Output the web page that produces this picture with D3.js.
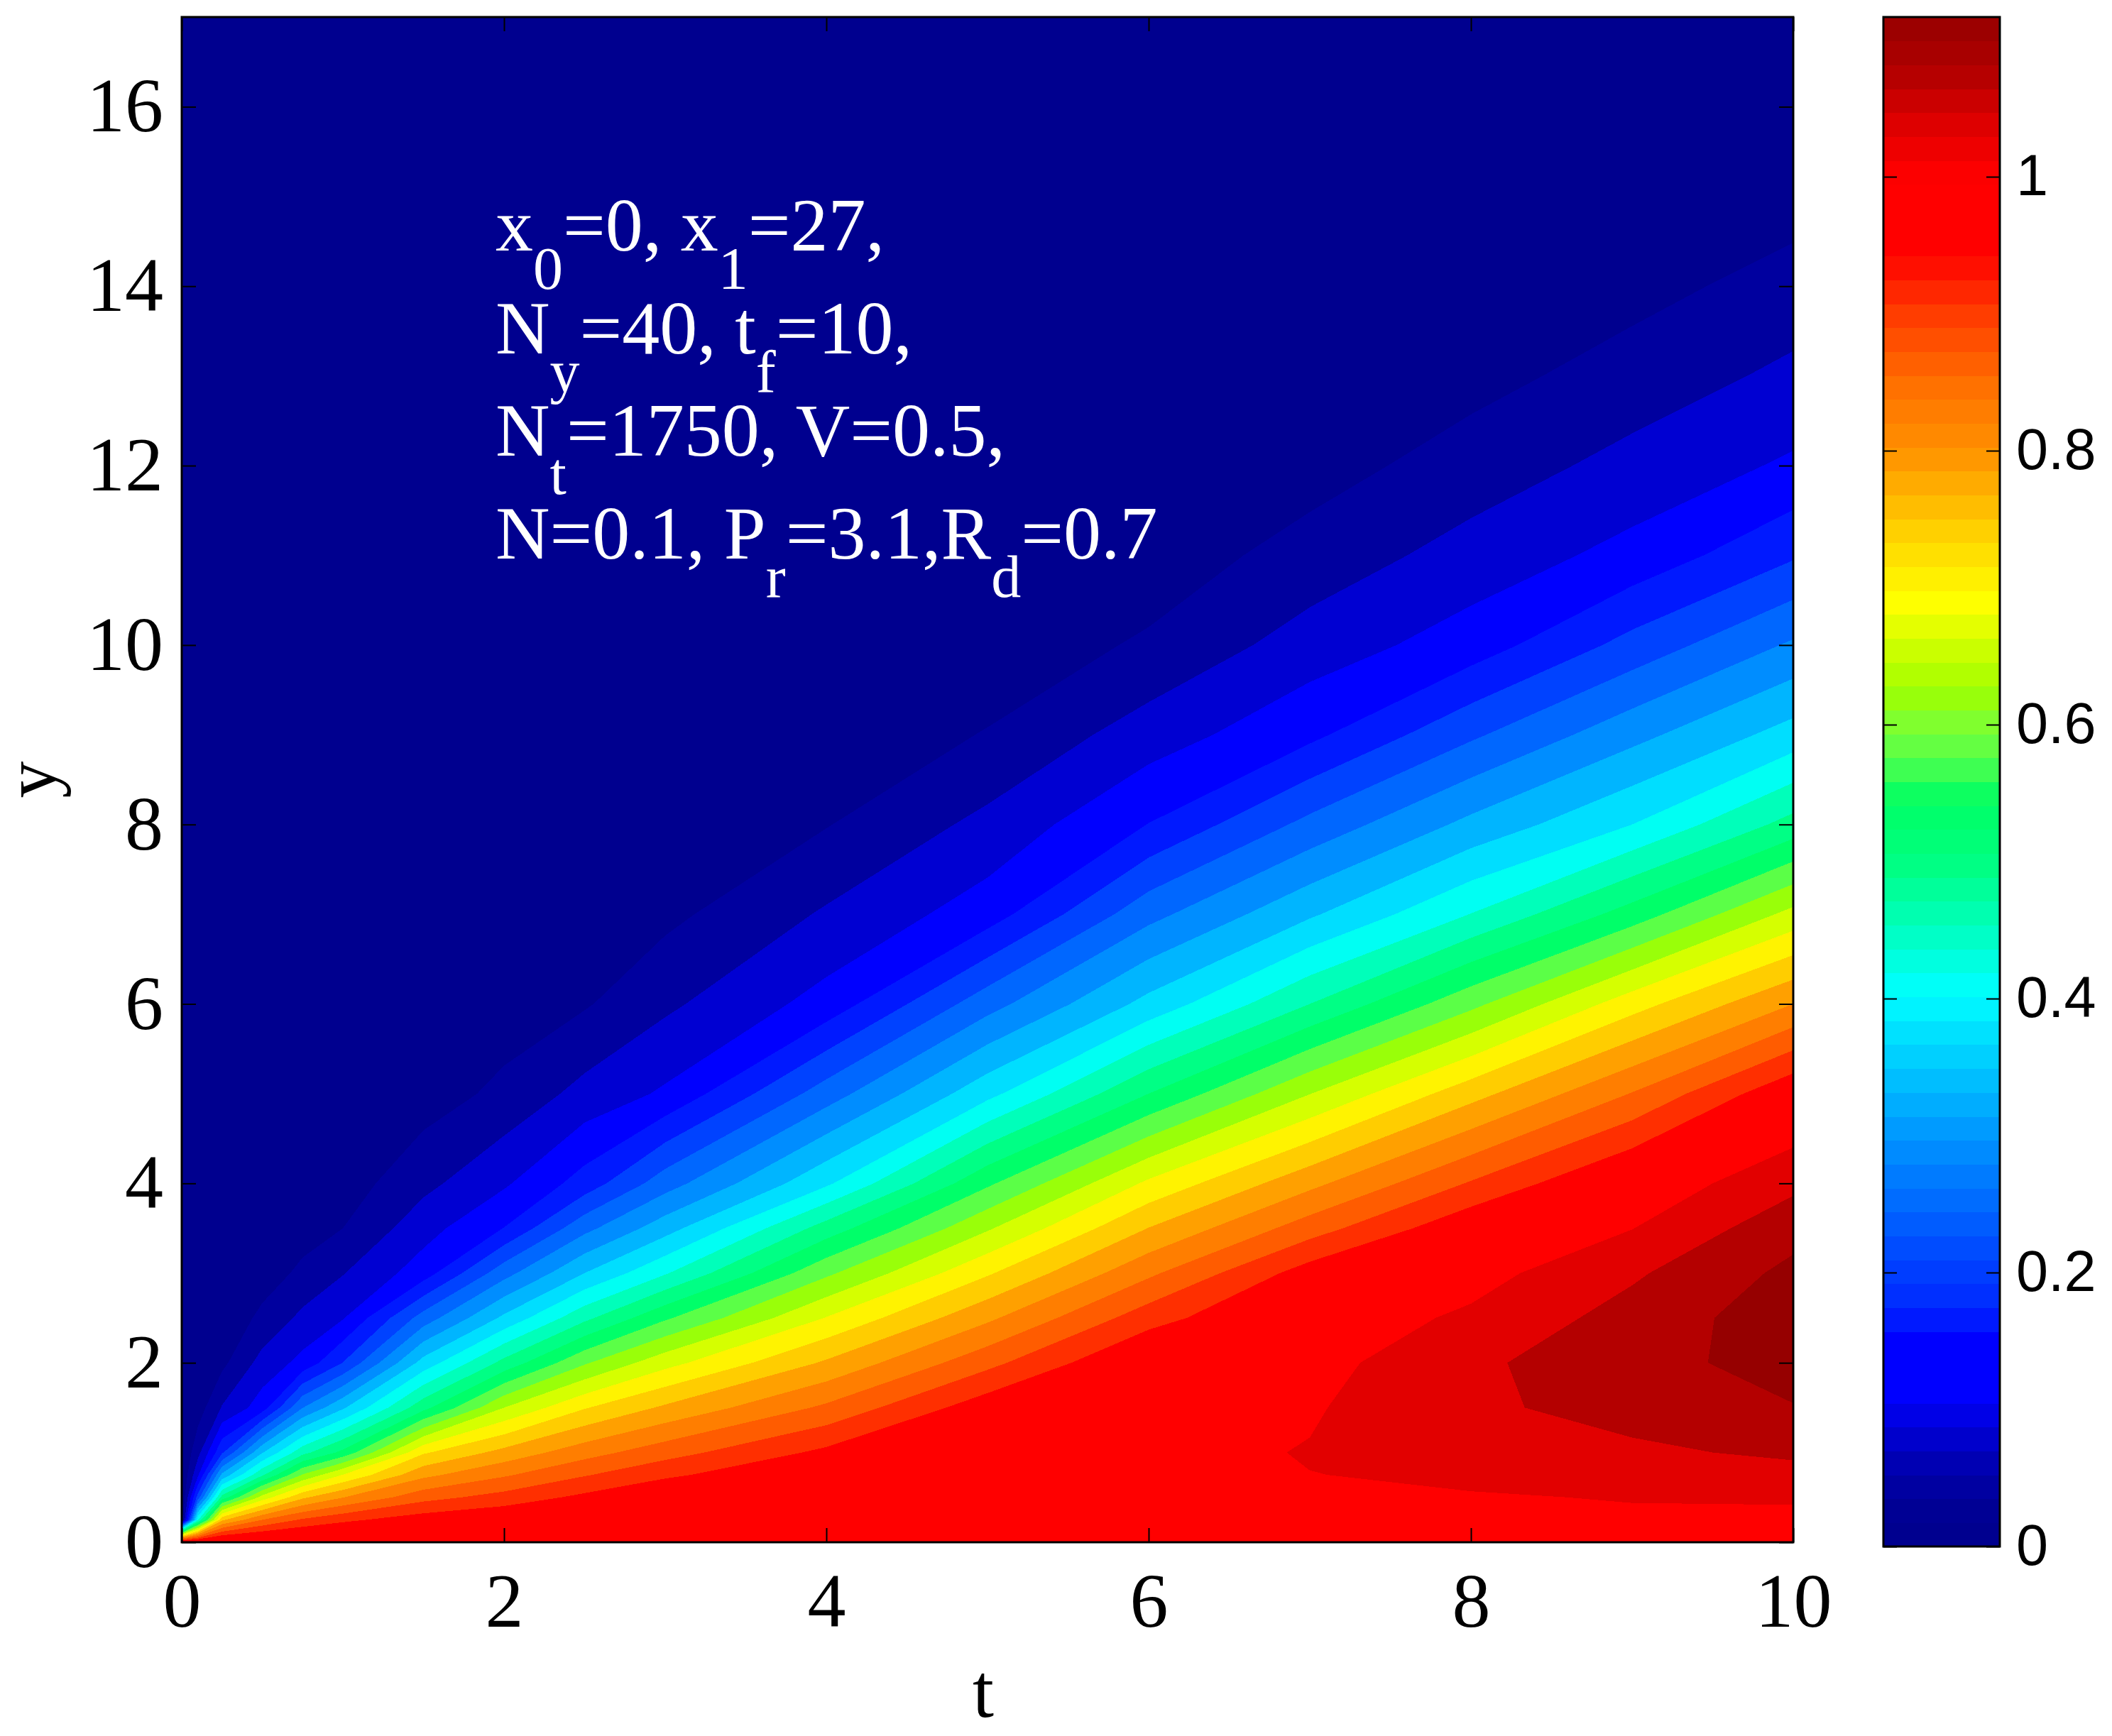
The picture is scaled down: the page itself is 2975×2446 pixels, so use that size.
<!DOCTYPE html>
<html>
<head>
<meta charset="utf-8">
<script src="https://cdnjs.cloudflare.com/ajax/libs/d3/7.8.5/d3.min.js"></script>
<style>
  html, body { margin: 0; padding: 0; background: #fff; }
  svg { display: block; }
</style>
</head>
<body>
<svg id="chart" width="2975" height="2446"></svg>
<script>
// grid columns (t) and rows (y) the values were read at
var tGrid = [0, 0.1, 0.25, 0.5, 0.75, 1, 1.5, 2, 2.5, 3, 4, 5, 6, 7, 8, 9, 10];
var yGrid = [0, 0.25, 0.5, 0.75, 1, 1.5, 2, 2.5, 3, 3.5, 4, 5, 6, 7, 8, 9, 10, 11, 12, 13, 14, 15, 16, 17];

// u(t, y), one column per t, values from y = 0 upwards
var u_t0    = [0.995, 0, 0, 0, 0, 0, 0, 0, 0, 0, 0, 0, 0, 0, 0, 0, 0, 0, 0, 0, 0, 0, 0, 0];
var u_t0_1  = [0.995, 0.434, 0.219, 0.113, 0.067, 0.02, 0.006, 0.002, 0, 0, 0, 0, 0, 0, 0, 0, 0, 0, 0, 0, 0, 0, 0, 0];
var u_t0_25 = [0.995, 0.752, 0.496, 0.33, 0.194, 0.083, 0.03, 0.012, 0.004, 0.001, 0, 0, 0, 0, 0, 0, 0, 0, 0, 0, 0, 0, 0, 0];
var u_t0_5  = [0.995, 0.84, 0.657, 0.475, 0.357, 0.14, 0.095, 0.049, 0.022, 0.01, 0.004, 0.001, 0, 0, 0, 0, 0, 0, 0, 0, 0, 0, 0, 0];
var u_t0_75 = [0.995, 0.886, 0.753, 0.604, 0.467, 0.279, 0.132, 0.09, 0.048, 0.025, 0.012, 0.003, 0.001, 0, 0, 0, 0, 0, 0, 0, 0, 0, 0, 0];
var u_t1    = [0.995, 0.911, 0.799, 0.682, 0.532, 0.354, 0.201, 0.117, 0.078, 0.04, 0.02, 0.005, 0.001, 0, 0, 0, 0, 0, 0, 0, 0, 0, 0, 0];
var u_t1_5  = [0.995, 0.942, 0.866, 0.79, 0.715, 0.507, 0.376, 0.258, 0.14, 0.104, 0.069, 0.02, 0.006, 0.002, 0, 0, 0, 0, 0, 0, 0, 0, 0, 0];
var u_t2    = [0.995, 0.958, 0.896, 0.835, 0.774, 0.64, 0.493, 0.369, 0.265, 0.161, 0.114, 0.05, 0.018, 0.006, 0.002, 0, 0, 0, 0, 0, 0, 0, 0, 0];
var u_t2_5  = [0.995, 0.97, 0.93, 0.877, 0.824, 0.717, 0.595, 0.47, 0.36, 0.268, 0.177, 0.093, 0.036, 0.013, 0.005, 0.001, 0, 0, 0, 0, 0, 0, 0, 0];
var u_t3    = [0.995, 0.98, 0.962, 0.912, 0.864, 0.767, 0.666, 0.554, 0.436, 0.343, 0.262, 0.126, 0.072, 0.03, 0.012, 0.004, 0.001, 0, 0, 0, 0, 0, 0, 0];
var u_t4    = [0.995, 0.985, 0.975, 0.963, 0.93, 0.848, 0.766, 0.682, 0.592, 0.498, 0.393, 0.26, 0.135, 0.085, 0.038, 0.016, 0.006, 0.002, 0, 0, 0, 0, 0, 0];
var u_t5    = [0.995, 0.992, 0.988, 0.982, 0.974, 0.945, 0.868, 0.792, 0.715, 0.635, 0.553, 0.388, 0.264, 0.14, 0.091, 0.042, 0.018, 0.007, 0.002, 0, 0, 0, 0, 0];
var u_t6    = [0.995, 0.993, 0.99, 0.99, 0.988, 0.982, 0.968, 0.903, 0.832, 0.761, 0.688, 0.52, 0.373, 0.267, 0.161, 0.1, 0.045, 0.02, 0.008, 0.003, 0.001, 0, 0, 0];
var u_t7    = [0.995, 0.997, 0.998, 0.9995, 1.002, 0.996, 0.985, 0.975, 0.94, 0.861, 0.789, 0.639, 0.48, 0.354, 0.252, 0.15, 0.099, 0.054, 0.025, 0.011, 0.004, 0.001, 0, 0];
var u_t8    = [0.995, 0.997, 0.9985, 1.004, 1.015, 1.032, 1.033, 1.007, 0.985, 0.953, 0.884, 0.745, 0.589, 0.441, 0.331, 0.233, 0.138, 0.097, 0.056, 0.028, 0.012, 0.005, 0.002, 0];
var u_t9    = [0.995, 0.997, 1.001, 1.015, 1.032, 1.056, 1.064, 1.056, 1.034, 0.999, 0.97, 0.842, 0.703, 0.538, 0.4, 0.307, 0.214, 0.132, 0.094, 0.055, 0.028, 0.012, 0.005, 0.001];
var u_t10   = [0.995, 0.998, 1.001, 1.025, 1.048, 1.078, 1.098, 1.103, 1.09, 1.066, 1.03, 0.955, 0.8, 0.653, 0.495, 0.377, 0.286, 0.195, 0.126, 0.09, 0.054, 0.025, 0.01, 0.003];

var columns = [u_t0, u_t0_1, u_t0_25, u_t0_5, u_t0_75, u_t1, u_t1_5, u_t2, u_t2_5, u_t3, u_t4, u_t5,
               u_t6, u_t7, u_t8, u_t9, u_t10];

// filled contour levels
var contourLevels = [0.04, 0.08, 0.12, 0.16, 0.2, 0.24, 0.28, 0.32, 0.36, 0.4, 0.44, 0.48, 0.52, 0.56,
                     0.6, 0.64, 0.68, 0.72, 0.76, 0.8, 0.84, 0.88, 0.92, 0.96, 1.0, 1.04, 1.08];

// colour map
var cMax = 1.1166;
var cmapStops  = [0, 0.02, 0.055, 0.085, 0.11, 0.15, 0.175, 0.2, 0.25, 0.3, 0.35, 0.405, 0.45, 0.5, 0.545,
                  0.575, 0.6, 0.625, 0.66, 0.69, 0.74, 0.8, 0.85, 0.9, 0.945, 1.0, 1.03, 1.05, 1.075, 1.095, 1.1166];
var cmapColors = ["#00008f", "#00008f", "#0000aa", "#0000d5", "#0000ff", "#0000ff", "#0028ff", "#003cff", "#0069ff",
                  "#0096ff", "#00c8ff", "#00ffff", "#00ffc0", "#00ff80", "#00ff64", "#55ff4b", "#7dff32", "#a0ff00",
                  "#d2ff00", "#ffff00", "#ffd200", "#ff9100", "#ff6e00", "#ff3c00", "#ff0000", "#ff0000", "#e60000",
                  "#d20000", "#b40000", "#a50000", "#960000"];

var xTicks = [0, 2, 4, 6, 8, 10];
var yTicks = [0, 2, 4, 6, 8, 10, 12, 14, 16];
var cbTicks = [0, 0.2, 0.4, 0.6, 0.8, 1];

var noteLines = [
  [["x", 0], ["0", 1], ["=0, x", 0], ["1", 1], ["=27,", 0]],
  [["N", 0], ["y", 1], ["=40, t", 0], ["f", 1], ["=10,", 0]],
  [["N", 0], ["t", 1], ["=1750, V=0.5,", 0]],
  [["N=0.1, P", 0], ["r", 1], ["=3.1,R", 0], ["d", 1], ["=0.7", 0]]
];

var svg = d3.select("#chart");
var plotL = 256, plotR = 2526, plotT = 24, plotB = 2173;
var cbL = 2653, cbR = 2817, cbT = 24, cbB = 2179;
var serif = "'Liberation Serif', 'Times New Roman', serif";

var x = d3.scaleLinear().domain([0, 10]).range([plotL, plotR]);
var y = d3.scaleLinear().domain([0, 17]).range([plotB, plotT]);
var cmap = d3.scaleLinear().domain(cmapStops).range(cmapColors).interpolate(d3.interpolateRgb).clamp(true);

// grid values, row major with t running fastest
var n = tGrid.length, m = yGrid.length;
var values = new Array(n * m);
for (var j = 0; j < m; j++) {
    for (var i = 0; i < n; i++) {
        values[j * n + i] = columns[i][j];
    }
}

// grid index -> pixel (sample i sits at i + 0.5 in d3.contours space)
var xIdx = d3.scaleLinear().domain(tGrid.map(function(d, i) { return i + 0.5; })).range(tGrid.map(x)).clamp(true);
var yIdx = d3.scaleLinear().domain(yGrid.map(function(d, i) { return i + 0.5; })).range(yGrid.map(y)).clamp(true);
var path = d3.geoPath(d3.geoTransform({
    point: function(px, py) { this.stream.point(xIdx(px), yIdx(py)); }
}));

var contours = d3.contours().size([n, m]).thresholds(contourLevels)(values);

svg.append("clipPath").attr("id", "plotclip")
    .append("rect").attr("x", plotL).attr("y", plotT).attr("width", plotR - plotL).attr("height", plotB - plotT);

var plot = svg.append("g").attr("clip-path", "url(#plotclip)");
var nb = contourLevels.length;

plot.append("rect")
    .attr("x", plotL).attr("y", plotT).attr("width", plotR - plotL).attr("height", plotB - plotT)
    .attr("fill", cmap(0));

plot.selectAll("path.band")
    .data(contours)
    .enter().append("path")
    .attr("class", "band")
    .attr("d", path)
    .attr("fill", function(d, k) { return cmap((k + 1) * cMax / nb); })
    .attr("shape-rendering", "crispEdges");

// annotation
noteLines.forEach(function(line, li) {
    var t = svg.append("text")
        .attr("x", 698).attr("y", 353 + li * 144.5)
        .attr("font-family", serif)
        .attr("font-size", 106)
        .attr("fill", "#fff");
    var shifted = 0;
    line.forEach(function(part) {
        var dy = part[1] ? 54 - shifted : -shifted;
        shifted = part[1] ? 54 : 0;
        t.append("tspan")
            .attr("dy", dy)
            .attr("font-size", part[1] ? 84 : 106)
            .text(part[0]);
    });
});

// axes
function styleAxis(g) {
    g.select(".domain").remove();
    g.selectAll(".tick line").attr("stroke", "#000").attr("stroke-width", 2);
    g.attr("font-family", serif).attr("font-size", 108);
    g.selectAll(".tick text").attr("fill", "#000");
}

svg.append("g").attr("transform", "translate(0," + plotB + ")")
    .call(d3.axisBottom(x).tickValues(xTicks).tickSize(-20).tickSizeOuter(0).tickPadding(42).tickFormat(d3.format("d")))
    .call(styleAxis);
svg.append("g").attr("transform", "translate(0," + plotT + ")")
    .call(d3.axisTop(x).tickValues(xTicks).tickSize(-20).tickSizeOuter(0).tickFormat(""))
    .call(styleAxis);
svg.append("g").attr("transform", "translate(" + plotL + ",0)")
    .call(d3.axisLeft(y).tickValues(yTicks).tickSize(-20).tickSizeOuter(0).tickPadding(26).tickFormat(d3.format("d")))
    .call(styleAxis);
svg.append("g").attr("transform", "translate(" + plotR + ",0)")
    .call(d3.axisRight(y).tickValues(yTicks).tickSize(-20).tickSizeOuter(0).tickFormat(""))
    .call(styleAxis);

svg.append("rect")
    .attr("x", plotL).attr("y", plotT).attr("width", plotR - plotL).attr("height", plotB - plotT)
    .attr("fill", "none").attr("stroke", "#000").attr("stroke-width", 3);

svg.append("text")
    .attr("x", 1385).attr("y", 2419)
    .attr("text-anchor", "middle")
    .attr("font-family", serif).attr("font-size", 108)
    .text("t");
svg.append("text")
    .attr("transform", "translate(78," + ((plotT + plotB) / 2) + ") rotate(-90)")
    .attr("text-anchor", "middle")
    .attr("font-family", serif).attr("font-size", 104)
    .text("y");

// colour bar
var cb = d3.scaleLinear().domain([0, cMax]).range([cbB, cbT]);
var nCb = 64;
svg.append("g").selectAll("rect")
    .data(d3.range(nCb))
    .enter().append("rect")
    .attr("x", cbL)
    .attr("width", cbR - cbL)
    .attr("y", function(k) { return cb((k + 1) * cMax / nCb); })
    .attr("height", function(k) { return cb(k * cMax / nCb) - cb((k + 1) * cMax / nCb) + 0.6; })
    .attr("fill", function(k) { return cmap((k + 0.5) * cMax / nCb); })
    .attr("shape-rendering", "crispEdges");

function styleCb(g) {
    g.select(".domain").remove();
    g.selectAll(".tick line").attr("stroke", "#000").attr("stroke-width", 2);
    g.attr("font-family", "'Liberation Sans', Arial, sans-serif").attr("font-size", 81);
    g.selectAll(".tick text").attr("fill", "#000");
}
svg.append("g").attr("transform", "translate(" + cbL + ",0)")
    .call(d3.axisLeft(cb).tickValues(cbTicks).tickSize(-19).tickSizeOuter(0).tickFormat(""))
    .call(styleCb);
svg.append("g").attr("transform", "translate(" + cbR + ",0)")
    .call(d3.axisRight(cb).tickValues(cbTicks).tickSize(-19).tickSizeOuter(0).tickPadding(23).tickFormat(d3.format("")))
    .call(styleCb);
svg.append("rect")
    .attr("x", cbL).attr("y", cbT).attr("width", cbR - cbL).attr("height", cbB - cbT)
    .attr("fill", "none").attr("stroke", "#000").attr("stroke-width", 3);
</script>
</body>
</html>
